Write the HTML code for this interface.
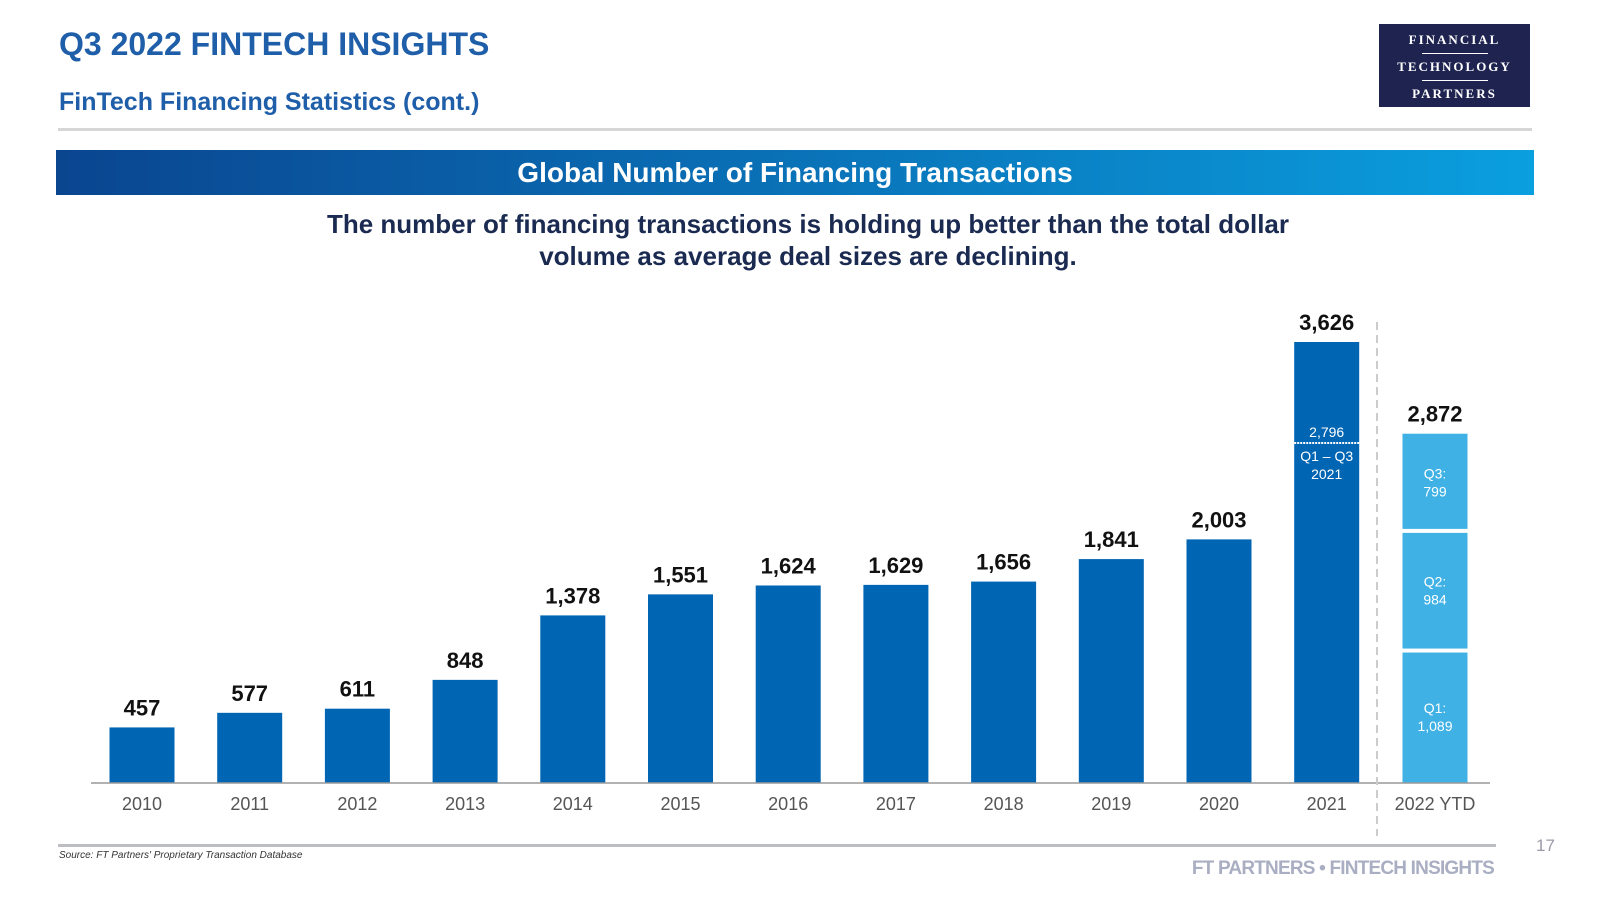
<!DOCTYPE html>
<html><head><meta charset="utf-8"><style>
body{margin:0;width:1600px;height:900px;background:#fff;font-family:"Liberation Sans",sans-serif;position:relative;overflow:hidden}
.abs{position:absolute}
</style></head><body>
<div class="abs" style="left:59px;top:26px;font-size:32px;font-weight:bold;color:#1f5ea8">Q3 2022 FINTECH INSIGHTS</div>
<div class="abs" style="left:59px;top:88px;font-size:25px;font-weight:bold;color:#1f5ea8">FinTech Financing Statistics (cont.)</div>
<div class="abs" style="left:1379px;top:24px;width:151px;height:83px;background:#1e2350;color:#fff;font-family:'Liberation Serif',serif;font-weight:bold;text-align:center;font-size:13px;letter-spacing:2px">
<div style="margin-top:8px">FINANCIAL</div><div style="width:66px;height:1px;background:#fff;margin:5px auto"></div>
<div>TECHNOLOGY</div><div style="width:66px;height:1px;background:#fff;margin:5px auto"></div>
<div>PARTNERS</div></div>
<div class="abs" style="left:58px;top:128px;width:1474px;height:3px;background:#d6d6d6"></div>
<div class="abs" style="left:56px;top:150px;width:1478px;height:45px;background:linear-gradient(90deg,#0a4590,#0a9fdf);color:#fff;font-size:28px;font-weight:bold;text-align:center;line-height:45px">Global Number of Financing Transactions</div>
<div class="abs" style="left:200px;top:208px;width:1216px;text-align:center;font-size:26px;font-weight:bold;color:#1a2a50;line-height:32px">The number of financing transactions is holding up better than the total dollar<br>volume as average deal sizes are declining.</div>
<svg class="abs" style="left:0;top:0" width="1600" height="900" id="chart"></svg>
<div class="abs" style="left:58px;top:844px;width:1438px;height:3px;background:#bdbdc4"></div>
<div class="abs" style="left:59px;top:850px;font-size:10px;font-style:italic;color:#333">Source: FT Partners' Proprietary Transaction Database</div>
<div class="abs" style="left:1536px;top:836px;font-size:17px;color:#9a9aa8">17</div>
<div class="abs" style="right:106px;top:858px;font-size:19px;font-weight:bold;color:#a9aec2;letter-spacing:-0.8px">FT PARTNERS • FINTECH INSIGHTS</div>
<script>
const years=["2010","2011","2012","2013","2014","2015","2016","2017","2018","2019","2020","2021"];
const counts=[457,577,611,848,1378,1551,1624,1629,1656,1841,2003,3626];
const ytdQuarters=["Q1","Q2","Q3"];
const ytdValues=[1089,984,799];
const q1q3_2021=2796;
const NS="http://www.w3.org/2000/svg";
const svg=document.getElementById('chart');
const base=783,scale=441/3626,bw=65;
const y=v=>base-v*scale;
const x=i=>142+i*107.7;
const fmt=v=>v.toLocaleString('en-US');
function el(t,a,txt){const e=document.createElementNS(NS,t);for(const k in a)e.setAttribute(k,a[k]);if(txt!==undefined)e.textContent=txt;svg.appendChild(e);return e;}
counts.forEach((v,i)=>{
 const r=el('rect',{x:x(i)-bw/2,y:y(v),width:bw,height:v*scale,fill:'#0065b3'});
 
 
 const t=el('text',{x:x(i),y:y(v)-12,'text-anchor':'middle','font-size':22,'font-weight':'bold',fill:'#111','font-family':'Liberation Sans'},fmt(v));
 
 
 const l=el('text',{x:x(i),y:810,'text-anchor':'middle','font-size':18,fill:'#555','font-family':'Liberation Sans'},years[i]);
 
 
});
// 2021 Q1-Q3 marker
const i21=11,ym=y(q1q3_2021);
const dl=el('line',{x1:x(i21)-bw/2,x2:x(i21)+bw/2,y1:ym,y2:ym,stroke:'#fff','stroke-width':2,'stroke-dasharray':'2,1'});


el('text',{x:x(i21),y:ym-6,'text-anchor':'middle','font-size':14,fill:'#fff','font-family':'Liberation Sans'},fmt(q1q3_2021));
el('text',{x:x(i21),y:ym+18,'text-anchor':'middle','font-size':14,fill:'#fff','font-family':'Liberation Sans'},'Q1 – Q3');
el('text',{x:x(i21),y:ym+36,'text-anchor':'middle','font-size':14,fill:'#fff','font-family':'Liberation Sans'},'2021');
// 2022 YTD stacked
const xc=1435;let cum=0;
ytdValues.forEach((v,k)=>{
 const top=y(cum+v),bot=y(cum);
 const r=el('rect',{x:xc-bw/2,y:top+(k<2?2:0),width:bw,height:bot-top-(k>0?2:0)-(k<2?2:0)+(k>0?0:0),fill:'#3fb1e5'});
 
 
 const m=(top+bot)/2;
 el('text',{x:xc,y:m-4,'text-anchor':'middle','font-size':14,fill:'#fff','font-family':'Liberation Sans'},ytdQuarters[k]+':');
 el('text',{x:xc,y:m+14,'text-anchor':'middle','font-size':14,fill:'#fff','font-family':'Liberation Sans'},fmt(v));
 cum+=v;
});
const tt=el('text',{x:xc,y:y(cum)-12,'text-anchor':'middle','font-size':22,'font-weight':'bold',fill:'#111','font-family':'Liberation Sans'},fmt(cum));


const yl=el('text',{x:xc,y:810,'text-anchor':'middle','font-size':18,fill:'#555','font-family':'Liberation Sans'},'2022 YTD');


const ax=el('line',{x1:91,x2:1490,y1:base,y2:base,stroke:'#999','stroke-width':1.5});


const sep=el('line',{x1:1377,x2:1377,y1:322,y2:836,stroke:'#ccc','stroke-width':2,'stroke-dasharray':'8,5'});


</script>
</body></html>
